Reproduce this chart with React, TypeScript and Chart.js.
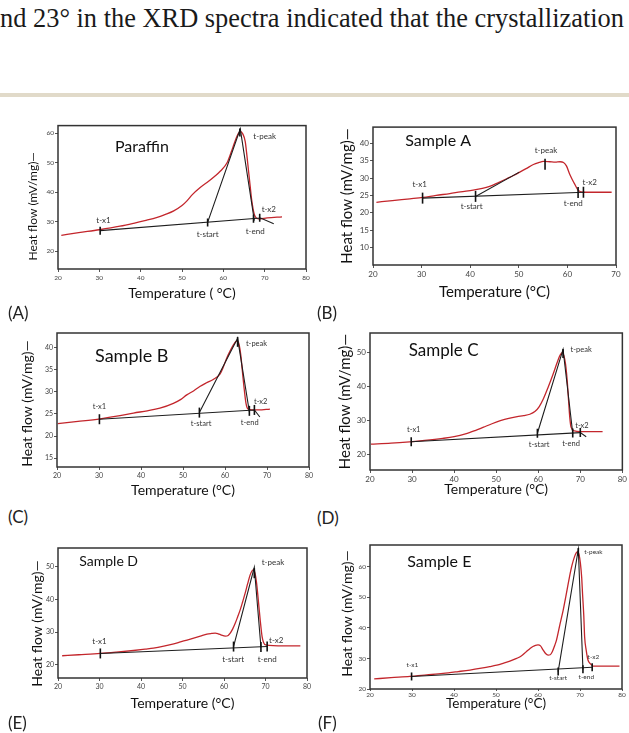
import React, { useEffect, useRef } from "react";
import { Chart, registerables } from "chart.js";

Chart.register(...registerables);

const FONT = 'Lato, "Open Sans", sans-serif';
const MARK_NAMES = ["t-x1", "t-start", "t-peak", "t-end", "t-x2"];
const AXIS_X_TITLE_A = "Temperature ( °C)";
const AXIS_X_TITLE = "Temperature (°C)";
const AXIS_Y_TITLE = "Heat flow (mV/mg)—";

// ---------- (A) Paraffin ----------
const paraffinT = [20.8, 25, 30, 35, 38.3, 41, 44, 46, 48, 50, 51.2, 52.5, 54.4, 56.5, 58, 59.3, 60.9, 62, 62.5, 63.3, 64.1, 64.7, 65.3, 65.7, 66.1, 66.5, 66.9, 67.5, 68.5, 70.6, 74.2];
const paraffinHF = [25.4, 26.3, 27.3, 28.5, 29.5, 30.4, 31.5, 32.5, 33.7, 35.5, 37.1, 39.2, 41.6, 43.8, 45.5, 47.2, 50, 54, 56, 59, 60.6, 59.8, 57.2, 52.5, 47.2, 42, 37, 32.5, 31, 31.3, 31.7];
const paraffinBaseT = [30.2, 69, 72.2];
const paraffinBaseHF = [27, 31.3, 29.3];
const paraffinTanT = [56.2, 64.1, 67.5];
const paraffinTanHF = [29.8, 61.5, 30.4];
const paraffinMarkT = [30.2, 56.2, 64.0, 67.3, 68.8];
const paraffinMarkHF = [27, 29.8, 60.3, 31, 31.4];
const paraffinLabT = [31, 56.2, 70, 67.7, 71];
const paraffinLabHF = [30.4, 25.7, 58.9, 26.7, 34.3];

// ---------- (B) Sample A ----------
const sampleAT = [20.7, 24, 27.6, 30.3, 33, 35.8, 38, 40.6, 42.5, 44, 45.8, 47.5, 49, 50.2, 51.5, 53, 54.2, 55, 56.4, 57.5, 58.5, 59.2, 59.8, 60.5, 61.1, 61.6, 62.2, 62.8, 63.3, 66, 69.1];
const sampleAHF = [23.0, 23.5, 24.0, 24.4, 25.0, 25.5, 26.0, 26.5, 27.0, 27.6, 28.7, 29.8, 30.8, 31.7, 32.7, 33.9, 34.5, 34.8, 34.7, 34.6, 34.7, 34.5, 33.5, 31.0, 29.3, 28.0, 26.5, 26.0, 25.9, 25.9, 25.9];
const sampleABaseT = [30.2, 63.5];
const sampleABaseHF = [24.2, 25.9];
const sampleATanT = [41.1, 50.1];
const sampleATanHF = [24.7, 31.7];
const sampleAMarkT = [30.2, 41.1, 55.4, 62.2, 63.3];
const sampleAMarkHF = [24.2, 24.7, 34.0, 25.8, 25.9];
const sampleALabT = [29.6, 40.3, 55.6, 61.2, 64.6];
const sampleALabHF = [28.1, 21.8, 38.1, 22.8, 28.6];

// ---------- (C) Sample B ----------
const sampleBT = [20.2, 25, 30.3, 35, 38.2, 41.5, 44.5, 47.7, 49.5, 50.9, 52.5, 54, 55.5, 57.2, 58.8, 59.6, 60.4, 61.2, 62, 62.6, 63.0, 63.4, 63.8, 64.1, 64.6, 65.0, 65.5, 66.4, 68, 70.7];
const sampleBHF = [22.8, 23.3, 23.9, 24.6, 25.2, 25.7, 26.3, 27.4, 28.3, 29.3, 30.2, 31.2, 32.0, 32.8, 34.0, 35.6, 37.6, 39.2, 40.6, 41.4, 41.5, 40.5, 38.0, 35.0, 30.4, 27.4, 26.1, 25.9, 25.9, 26.1];
const sampleBBaseT = [30.1, 67, 68.3];
const sampleBBaseHF = [23.8, 25.9, 24.3];
const sampleBTanT = [53.9, 63.0, 65.8];
const sampleBTanHF = [25.3, 42.1, 25.5];
const sampleBMarkT = [30.1, 53.9, 63.0, 65.8, 67.0];
const sampleBMarkHF = [23.8, 25.3, 41.3, 25.7, 25.9];
const sampleBLabT = [30.1, 54.3, 67.5, 65.9, 68.5];
const sampleBLabHF = [26.7, 22.8, 40.8, 23.1, 27.8];

// ---------- (D) Sample C ----------
const sampleCT = [20.2, 25, 29.4, 33, 37.3, 40, 42.7, 45, 47, 49, 51, 53, 55, 56.5, 58, 59.2, 60.2, 61.2, 62.4, 63.5, 64.5, 65.2, 65.7, 66.1, 66.5, 66.9, 67.2, 67.5, 67.8, 68.6, 70, 75.3];
const sampleCHF = [23.0, 23.3, 23.7, 24.1, 24.7, 25.2, 26.0, 27.0, 28.0, 29.0, 29.9, 30.6, 31.1, 31.4, 31.8, 32.6, 34.0, 36.3, 39.9, 43.5, 47.0, 49.2, 49.9, 49.0, 46.5, 41.5, 36.0, 30.8, 28.0, 26.9, 26.7, 26.7];
const sampleCBaseT = [29.8, 70, 71.4];
const sampleCBaseHF = [23.7, 26.4, 25.2];
const sampleCTanT = [59.8, 65.9, 68.2];
const sampleCTanHF = [26.2, 50.9, 26.2];
const sampleCMarkT = [29.8, 59.8, 65.9, 68.2, 70.0];
const sampleCMarkHF = [23.7, 26.2, 49.7, 26.3, 26.4];
const sampleCLabT = [30.4, 60.2, 70.2, 67.8, 70.4];
const sampleCLabHF = [27.4, 23.0, 50.9, 23.2, 28.6];

// ---------- (E) Sample D ----------
const sampleDT = [21, 25, 30.2, 34, 38.2, 41, 43, 45.5, 47.9, 49.5, 51.1, 52.7, 54.3, 55.9, 57.0, 57.9, 58.6, 59.4, 60.3, 61.0, 61.5, 62.1, 62.7, 63.3, 63.9, 64.5, 65.1, 65.7, 66.3, 66.7, 67.0, 67.4, 67.8, 68.1, 68.4, 68.7, 69.2, 70.0, 74.4, 78.4];
const sampleDHF = [22.8, 23.1, 23.5, 23.9, 24.4, 24.8, 25.1, 25.7, 26.4, 27.0, 27.6, 28.2, 28.8, 29.4, 29.6, 29.7, 29.5, 29.1, 28.8, 29.0, 29.7, 31.0, 32.7, 34.7, 36.8, 39.3, 41.9, 44.8, 47.5, 48.6, 49.0, 48.3, 45.5, 42.0, 38.0, 34.0, 28.5, 26.1, 25.8, 25.8];
const sampleDBaseT = [30.2, 70.4];
const sampleDBaseHF = [23.5, 25.6];
const sampleDTanT = [62.3, 67.3, 68.9];
const sampleDTanHF = [25.6, 49.8, 25.4];
const sampleDMarkT = [30.2, 62.3, 67.3, 68.9, 70.4];
const sampleDMarkHF = [23.5, 25.6, 48.0, 25.5, 25.6];
const sampleDLabT = [30, 62.2, 71.8, 70.4, 72.6];
const sampleDLabHF = [27.1, 21.8, 51.3, 21.8, 27.4];

// ---------- (F) Sample E ----------
const sampleET = [21, 25, 29.5, 33.5, 37.4, 41, 43.8, 46.5, 48.5, 50.2, 51.7, 53.3, 54.9, 56.1, 57.2, 58.0, 58.8, 59.4, 60.0, 60.6, 61.2, 61.8, 62.4, 62.9, 63.4, 64.0, 64.4, 65.2, 66.0, 66.8, 67.5, 68.1, 68.7, 69.1, 69.4, 69.8, 70.1, 70.4, 70.6, 70.9, 71.1, 71.5, 71.9, 72.5, 73.1, 76, 79.4];
const sampleEHF = [23.3, 23.7, 24.1, 24.6, 25.1, 25.7, 26.2, 26.8, 27.3, 27.8, 28.4, 29.1, 30.0, 30.9, 32.2, 33.1, 33.9, 34.3, 34.4, 34.1, 32.8, 31.6, 31.1, 31.2, 32.2, 34.3, 36.0, 41.0, 45.8, 51.5, 56.7, 60.5, 63.3, 64.5, 64.9, 63.8, 61.1, 56.5, 51.3, 44.0, 37.1, 32.5, 29.5, 28.2, 27.5, 27.5, 27.5];
const sampleEBaseT = [29.9, 72.9];
const sampleEBaseHF = [24.1, 27.1];
const sampleETanT = [64.8, 69.6, 70.7];
const sampleETanHF = [25.7, 65.7, 26.4];
const sampleEMarkT = [29.9, 64.8, 69.6, 70.7, 72.9];
const sampleEMarkHF = [24.1, 25.7, 64.8, 26.5, 27.1];
const sampleELabT = [30.1, 64.8, 73.2, 71.5, 73.2];
const sampleELabHF = [27.9, 23.7, 64.9, 23.8, 30.6];

// axis ticks
const xTicks80 = [20, 30, 40, 50, 60, 70, 80];
const xTicks70 = [20, 30, 40, 50, 60, 70];
const yTicksA = [20, 30, 40, 50, 60];
const yTicksB = [10, 15, 20, 25, 30, 35, 40];
const yTicksC = [15, 20, 25, 30, 35, 40];
const yTicksD = [20, 30, 40, 50];
const yTicksE = [20, 30, 40, 50];
const yTicksF = [20, 30, 40, 50, 60];

const panelNames = ["Paraffin", "Sample A", "Sample B", "Sample C", "Sample D", "Sample E"];
const panelLetters = ["(A)", "(B)", "(C)", "(D)", "(E)", "(F)"];

type Panel = any;

const EN = "\u2002";

const panels: Panel[] = [
  {
    box: { left: 0, top: 120, width: 318, height: 182 }, plot: { l: 58, t: 124, r: 306, b: 269 },
    xMin: 20, xMax: 80, xTicks: xTicks80, yMin: 14, yMax: 62.6, yTicks: yTicksA,
    curveT: paraffinT, curveHF: paraffinHF, baseT: paraffinBaseT, baseHF: paraffinBaseHF,
    tanT: paraffinTanT, tanHF: paraffinTanHF, markT: paraffinMarkT, markHF: paraffinMarkHF, markR: 4,
    labT: paraffinLabT, labHF: paraffinLabHF, labSize: 8,
    name: panelNames[0], nameT: 40.3, nameHF: 55.5, nameSize: 16,
    tickSize: 6.5, tickPad: 2, tickLen: 3,
    xTitle: AXIS_X_TITLE_A, xTitleSize: 14, xTitleY: 293,
    yTitle: AXIS_Y_TITLE + EN + EN + EN, yTitleSize: 12, yTitleX: 33,
    letter: panelLetters[0], letterX: 8, letterY: 313,
  },
  {
    box: { left: 320, top: 120, width: 309, height: 182 }, plot: { l: 373, t: 124, r: 616, b: 265 },
    xMin: 20, xMax: 70, xTicks: xTicks70, yMin: 4.9, yMax: 44.7, yTicks: yTicksB,
    curveT: sampleAT, curveHF: sampleAHF, baseT: sampleABaseT, baseHF: sampleABaseHF,
    tanT: sampleATanT, tanHF: sampleATanHF, markT: sampleAMarkT, markHF: sampleAMarkHF, markR: 5.5,
    labT: sampleALabT, labHF: sampleALabHF, labSize: 8,
    name: panelNames[1], nameT: 33.4, nameHF: 40.7, nameSize: 16,
    tickSize: 8, tickPad: 2, tickLen: 3,
    xTitle: AXIS_X_TITLE, xTitleSize: 15, xTitleY: 292,
    yTitle: AXIS_Y_TITLE, yTitleSize: 15, yTitleX: 347,
    letter: panelLetters[1], letterX: 317, letterY: 313,
  },
  {
    box: { left: 0, top: 322, width: 318, height: 178 }, plot: { l: 57, t: 333, r: 309, b: 467 },
    xMin: 20, xMax: 80, xTicks: xTicks80, yMin: 13, yMax: 43.3, yTicks: yTicksC,
    curveT: sampleBT, curveHF: sampleBHF, baseT: sampleBBaseT, baseHF: sampleBBaseHF,
    tanT: sampleBTanT, tanHF: sampleBTanHF, markT: sampleBMarkT, markHF: sampleBMarkHF, markR: 5,
    labT: sampleBLabT, labHF: sampleBLabHF, labSize: 7.5,
    name: panelNames[2], nameT: 37.8, nameHF: 38.1, nameSize: 18,
    tickSize: 7, tickPad: 2, tickLen: 3,
    xTitle: AXIS_X_TITLE, xTitleSize: 14, xTitleY: 490,
    yTitle: AXIS_Y_TITLE + EN, yTitleSize: 14, yTitleX: 27,
    letter: panelLetters[2], letterX: 8, letterY: 517,
  },
  {
    box: { left: 320, top: 322, width: 309, height: 178 }, plot: { l: 370, t: 333, r: 625, b: 470 },
    xMin: 20, xMax: 80, xTicks: xTicks80, yMin: 15.4, yMax: 55.7, yTicks: yTicksD,
    curveT: sampleCT, curveHF: sampleCHF, baseT: sampleCBaseT, baseHF: sampleCBaseHF,
    tanT: sampleCTanT, tanHF: sampleCTanHF, markT: sampleCMarkT, markHF: sampleCMarkHF, markR: 4.5,
    labT: sampleCLabT, labHF: sampleCLabHF, labSize: 7.5,
    name: panelNames[3], nameT: 37.5, nameHF: 50.5, nameSize: 17,
    tickSize: 8, tickPad: 2, tickLen: 3,
    xTitle: AXIS_X_TITLE, xTitleSize: 14, xTitleY: 489,
    yTitle: AXIS_Y_TITLE, yTitleSize: 15, yTitleX: 345,
    letter: panelLetters[3], letterX: 317, letterY: 518,
  },
  {
    box: { left: 0, top: 530, width: 318, height: 185 }, plot: { l: 58, t: 548, r: 307, b: 678 },
    xMin: 20, xMax: 80, xTicks: xTicks80, yMin: 16, yMax: 55.7, yTicks: yTicksE,
    curveT: sampleDT, curveHF: sampleDHF, baseT: sampleDBaseT, baseHF: sampleDBaseHF,
    tanT: sampleDTanT, tanHF: sampleDTanHF, markT: sampleDMarkT, markHF: sampleDMarkHF, markR: 5,
    labT: sampleDLabT, labHF: sampleDLabHF, labSize: 8,
    name: panelNames[4], nameT: 32.2, nameHF: 51.5, nameSize: 14,
    tickSize: 7, tickPad: 2, tickLen: 3,
    xTitle: AXIS_X_TITLE, xTitleSize: 14, xTitleY: 703,
    yTitle: AXIS_Y_TITLE + EN + EN + EN, yTitleSize: 14, yTitleX: 37,
    letter: panelLetters[4], letterX: 8, letterY: 723,
  },
  {
    box: { left: 320, top: 530, width: 309, height: 185 }, plot: { l: 370, t: 545, r: 622, b: 689 },
    xMin: 20, xMax: 80, xTicks: xTicks80, yMin: 20, yMax: 67.1, yTicks: yTicksF,
    curveT: sampleET, curveHF: sampleEHF, baseT: sampleEBaseT, baseHF: sampleEBaseHF,
    tanT: sampleETanT, tanHF: sampleETanHF, markT: sampleEMarkT, markHF: sampleEMarkHF, markR: 4,
    labT: sampleELabT, labHF: sampleELabHF, labSize: 6.5,
    name: panelNames[5], nameT: 36.5, nameHF: 61.6, nameSize: 16,
    tickSize: 6.5, tickPad: 0, tickLen: 2,
    xTitle: AXIS_X_TITLE, xTitleSize: 13.5, xTitleY: 704,
    yTitle: EN + AXIS_Y_TITLE, yTitleSize: 14, yTitleX: 347,
    letter: panelLetters[5], letterX: 318, letterY: 723,
  },
];

const toXY = (xs: number[], ys: number[]) => xs.map((x, i) => ({ x, y: ys[i] }));

function DscPanel({ p }: { p: Panel }) {
  const ref = useRef<HTMLCanvasElement | null>(null);
  useEffect(() => {
    if (!ref.current) return;
    const { box, plot } = p;
    const xAxisH = box.top + box.height - plot.b;
    const yAxisW = plot.l - box.left;
    const xTitlePad = box.top + box.height - p.xTitleY - p.xTitleSize * 0.6;
    const yTitlePad = p.yTitleX - box.left - p.yTitleSize * 0.6;

    const framePlugin = {
      id: "dscFrame",
      afterDatasetsDraw(chart: any) {
        const { ctx, chartArea: a } = chart;
        ctx.save();
        ctx.strokeStyle = "#333";
        ctx.lineWidth = 1.5;
        ctx.strokeRect(a.left, a.top, a.right - a.left, a.bottom - a.top);
        ctx.restore();
      },
    };
    const textPlugin = {
      id: "dscText",
      afterDraw(chart: any) {
        const { ctx } = chart;
        const xs = chart.scales.x;
        const ys = chart.scales.y;
        ctx.save();
        ctx.textAlign = "center";
        ctx.textBaseline = "middle";
        ctx.fillStyle = "#333";
        ctx.font = `${p.labSize}px ${FONT}`;
        MARK_NAMES.forEach((n, i) => {
          ctx.fillText(n, xs.getPixelForValue(p.labT[i]), ys.getPixelForValue(p.labHF[i]));
        });
        ctx.fillStyle = "#111";
        ctx.font = `${p.nameSize}px ${FONT}`;
        ctx.fillText(p.name, xs.getPixelForValue(p.nameT), ys.getPixelForValue(p.nameHF));
        ctx.restore();
      },
    };

    const chart = new Chart(ref.current, {
      type: "scatter",
      data: {
        datasets: [
          {
            data: toXY(p.markT, p.markHF),
            showLine: false,
            pointStyle: "line",
            pointRotation: 90,
            pointRadius: p.markR,
            pointBorderColor: "#111",
            pointBorderWidth: 1.6,
            pointBackgroundColor: "#111",
          },
          {
            data: toXY(p.tanT, p.tanHF),
            showLine: true,
            borderColor: "#1e1e1e",
            borderWidth: 1.1,
            pointRadius: 0,
            tension: 0,
          },
          {
            data: toXY(p.baseT, p.baseHF),
            showLine: true,
            borderColor: "#1e1e1e",
            borderWidth: 1.1,
            pointRadius: 0,
            tension: 0,
          },
          {
            data: toXY(p.curveT, p.curveHF),
            showLine: true,
            borderColor: "#c3262c",
            borderWidth: 1.3,
            pointRadius: 0,
            cubicInterpolationMode: "monotone",
          },
        ],
      } as any,
      options: {
        animation: false,
        responsive: false,
        maintainAspectRatio: false,
        events: [],
        layout: {
          padding: { left: 0, bottom: 0, top: plot.t - box.top, right: box.left + box.width - plot.r },
        },
        plugins: { legend: { display: false }, tooltip: { enabled: false } },
        scales: {
          x: {
            type: "linear",
            min: p.xMin,
            max: p.xMax,
            afterBuildTicks: (s: any) => {
              s.ticks = p.xTicks.map((v: number) => ({ value: v }));
            },
            afterFit: (s: any) => {
              s.height = xAxisH;
            },
            grid: { display: true, drawOnChartArea: false, drawTicks: true, tickLength: p.tickLen, color: "#555", lineWidth: 1 },
            border: { display: false },
            ticks: { font: { size: p.tickSize, family: FONT }, color: "#444", padding: p.tickPad, maxRotation: 0, autoSkip: false },
            title: {
              display: true,
              text: p.xTitle,
              font: { size: p.xTitleSize, family: FONT },
              color: "#111",
              padding: { top: 0, bottom: xTitlePad },
            },
          },
          y: {
            type: "linear",
            position: "left",
            min: p.yMin,
            max: p.yMax,
            afterBuildTicks: (s: any) => {
              s.ticks = p.yTicks.map((v: number) => ({ value: v }));
            },
            afterFit: (s: any) => {
              s.width = yAxisW;
            },
            grid: { display: true, drawOnChartArea: false, drawTicks: true, tickLength: 3, color: "#555", lineWidth: 1 },
            border: { display: false },
            ticks: { font: { size: p.tickSize, family: FONT }, color: "#444", padding: 1, autoSkip: false },
            title: {
              display: true,
              text: p.yTitle,
              font: { size: p.yTitleSize, family: FONT },
              color: "#111",
              padding: { top: yTitlePad, bottom: 0 },
            },
          },
        },
      } as any,
      plugins: [framePlugin, textPlugin],
    });
    return () => chart.destroy();
  }, [p]);

  const { box } = p;
  return (
    <canvas
      ref={ref}
      width={box.width}
      height={box.height}
      style={{ position: "absolute", left: box.left, top: box.top, width: box.width, height: box.height }}
    />
  );
}

export default function App() {
  return (
    <div style={{ position: "absolute", left: 0, top: 0, width: 629, height: 733, background: "#fff", overflow: "hidden" }}>
      <div
        style={{
          position: "absolute",
          left: 0,
          top: 5,
          fontFamily: '"Liberation Serif", serif',
          fontSize: 26.4,
          lineHeight: "26.4px",
          whiteSpace: "nowrap",
          color: "#1a1a1a",
        }}
      >
        nd 23° in the XRD spectra indicated that the crystallization
      </div>
      <div style={{ position: "absolute", left: 0, top: 93, width: 629, height: 4, background: "#e1dac9" }} />
      {panels.map((p, i) => (
        <DscPanel key={i} p={p} />
      ))}
      {panels.map((p, i) => (
        <div
          key={"l" + i}
          style={{
            position: "absolute",
            left: p.letterX,
            top: p.letterY - 11,
            fontFamily: FONT,
            fontSize: 17,
            lineHeight: "22px",
            color: "#222",
          }}
        >
          {p.letter}
        </div>
      ))}
    </div>
  );
}
